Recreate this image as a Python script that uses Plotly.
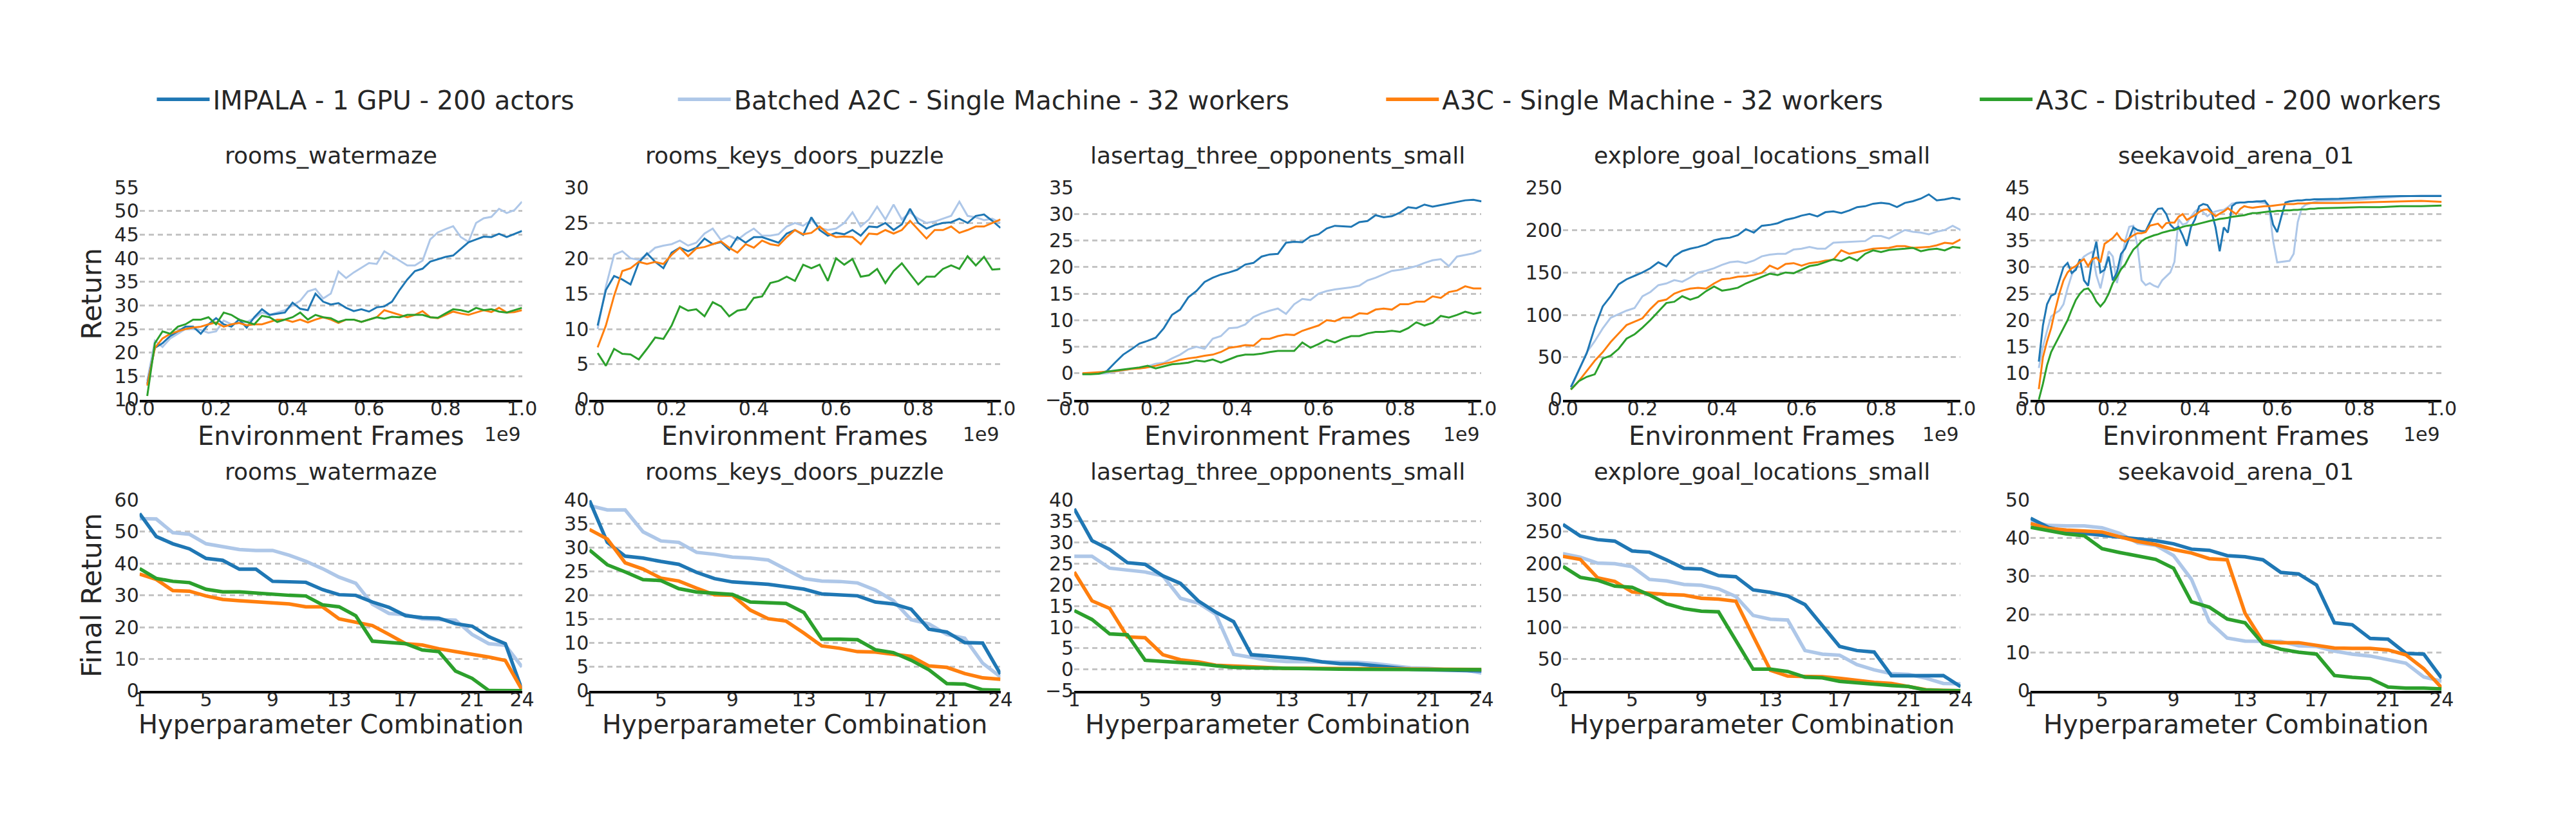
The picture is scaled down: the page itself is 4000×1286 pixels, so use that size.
import plotly.graph_objects as go

W, H = 4000, 1286
FONT = "DejaVu Sans"
TXT = "#262626"

SERIES = ["IMPALA - 1 GPU - 200 actors",
          "Batched A2C - Single Machine - 32 workers",
          "A3C - Single Machine - 32 workers",
          "A3C - Distributed - 200 workers"]
COLORS = ["#1f77b4", "#aec7e8", "#ff7f0e", "#2ca02c"]
ENVS = ["rooms_watermaze", "rooms_keys_doors_puzzle", "lasertag_three_opponents_small",
        "explore_goal_locations_small", "seekavoid_arena_01"]

# ---------------- top row: learning curves (x in units of 1e9 frames) ----------------
FRAMES = [0.02, 0.04, 0.06, 0.08, 0.10, 0.12, 0.14, 0.16, 0.18, 0.20,
          0.22, 0.24, 0.26, 0.28, 0.30, 0.32, 0.34, 0.36, 0.38, 0.40,
          0.42, 0.44, 0.46, 0.48, 0.50, 0.52, 0.54, 0.56, 0.58, 0.60,
          0.62, 0.64, 0.66, 0.68, 0.70, 0.72, 0.74, 0.76, 0.78, 0.80,
          0.82, 0.84, 0.86, 0.88, 0.90, 0.92, 0.94, 0.96, 0.98, 1.00]

WM_IMPALA = [13.4, 21.0, 22.0, 23.5, 24.5, 25.5, 25.5, 24.0, 26.0, 27.3,
             26.0, 25.5, 27.0, 25.3, 27.5, 29.2, 28.0, 28.3, 28.5, 30.6,
             29.3, 29.0, 32.5, 30.8, 30.2, 30.5, 29.5, 28.8, 29.2, 28.7,
             29.6, 29.8, 30.8, 33.3, 35.5, 37.3, 37.8, 39.3, 39.8, 40.3,
             40.6, 42.0, 43.4, 44.0, 44.6, 44.5, 45.2, 44.5, 45.1, 45.8]
WM_A2C = [14.0, 22.5, 21.2, 23.0, 24.0, 25.0, 25.0, 24.8, 24.2, 24.5,
          26.8, 26.0, 26.3, 26.5, 27.3, 28.5, 28.0, 28.5, 29.0, 30.0,
          31.0, 33.0, 33.5, 31.5, 32.5, 37.2, 35.8, 37.0, 38.0, 39.0,
          38.8, 41.5, 40.5, 39.5, 38.5, 38.5, 39.5, 44.0, 45.5, 46.2,
          46.8, 44.5, 43.5, 47.5, 48.5, 48.8, 50.5, 49.6, 50.2, 52.0]
WM_A3C = [13.0, 21.0, 23.0, 24.0, 24.5, 25.0, 25.3, 25.5, 26.0, 26.4,
          25.5, 26.0, 26.3, 25.8, 26.0, 26.0, 26.5, 27.0, 27.0, 26.5,
          27.0, 26.4, 27.0, 27.5, 27.0, 26.3, 27.0, 27.0, 26.5, 27.0,
          27.5, 29.0, 28.5, 28.0, 27.5, 28.0, 28.8, 27.5, 27.3, 28.0,
          28.7, 28.3, 28.0, 28.5, 29.0, 28.6, 29.5, 28.5, 28.6, 29.0]
WM_A3CD = [10.8, 22.0, 24.5, 24.0, 25.5, 26.0, 27.0, 27.0, 27.5, 26.0,
           28.5, 28.0, 27.0, 26.5, 26.0, 27.8, 27.5, 26.5, 27.0, 27.5,
           28.5, 27.0, 28.0, 27.5, 27.3, 26.5, 27.0, 27.0, 26.5, 27.0,
           27.5, 27.2, 27.6, 27.5, 28.0, 28.0, 28.0, 27.5, 27.4, 28.3,
           29.2, 29.0, 28.6, 29.5, 29.0, 29.2, 28.7, 28.5, 29.0, 29.5]

KD_IMPALA = [10.5, 15.5, 17.5, 17.0, 16.3, 19.4, 20.7, 19.5, 18.6, 20.8,
             21.5, 21.0, 21.5, 22.8, 22.0, 22.3, 21.2, 23.0, 22.2, 23.0,
             23.0, 22.6, 22.2, 23.5, 24.0, 23.3, 25.8, 24.0, 23.2, 23.6,
             23.4, 24.0, 23.2, 24.5, 24.4, 25.0, 24.0, 24.8, 27.0, 25.0,
             24.2, 24.7, 25.0, 25.1, 25.6, 25.0, 26.0, 26.2, 25.3, 24.3]
KD_A2C = [10.0, 16.0, 20.5, 21.0, 20.0, 19.8, 20.5, 21.5, 21.8, 22.0,
          22.5, 21.8, 22.2, 23.5, 24.2, 22.6, 23.2, 22.6, 23.5, 24.2,
          23.2, 23.2, 23.4, 24.5, 25.0, 24.6, 25.4, 24.3, 24.0, 24.2,
          25.0, 26.5, 24.5, 25.5, 27.3, 25.5, 27.6, 25.5, 26.5, 25.6,
          25.0, 25.2, 25.6, 26.0, 28.0, 26.0, 25.8, 25.4, 25.6, 25.0]
KD_A3C = [7.4, 10.5, 14.7, 18.2, 18.6, 19.5, 19.2, 19.5, 19.2, 20.5,
          21.5, 20.3, 21.4, 21.6, 22.0, 22.4, 21.5, 20.8, 22.0, 21.5,
          22.5, 22.0, 21.8, 23.0, 24.0, 23.4, 23.6, 24.5, 23.5, 23.0,
          23.1, 23.0, 22.0, 23.5, 23.4, 24.0, 23.5, 24.0, 25.3, 24.0,
          22.8, 24.0, 24.0, 24.5, 23.6, 24.0, 24.5, 24.5, 25.0, 25.5]
KD_A3CD = [6.6, 4.8, 7.2, 6.5, 6.4, 5.7, 7.2, 8.8, 8.6, 10.5,
           13.2, 12.6, 12.8, 11.8, 13.8, 13.2, 11.8, 12.6, 12.8, 14.4,
           14.6, 16.5, 16.8, 17.4, 16.8, 19.1, 18.6, 19.1, 16.8, 20.0,
           19.1, 19.9, 17.4, 17.6, 18.5, 16.5, 18.2, 19.3, 17.8, 16.3,
           17.4, 17.4, 18.5, 19.0, 18.5, 20.3, 19.0, 20.2, 18.4, 18.5]

LT_IMPALA = [-0.1, -0.1, 0.0, 0.4, 2.0, 3.5, 4.5, 5.6, 6.1, 6.7,
             8.5, 11.0, 12.0, 14.3, 15.5, 17.2, 18.0, 18.6, 19.0, 19.5,
             20.5, 20.8, 22.0, 22.4, 22.5, 24.6, 24.8, 24.7, 25.8, 26.2,
             27.3, 27.8, 27.7, 27.6, 28.5, 28.7, 29.8, 29.4, 29.6, 30.3,
             31.3, 31.1, 31.8, 31.4, 31.7, 32.0, 32.3, 32.6, 32.7, 32.4]
LT_A2C = [-0.1, -0.1, -0.1, 0.0, 0.3, 0.5, 0.8, 0.9, 1.3, 1.8,
          2.0, 2.8, 3.5, 4.5, 5.0, 4.6, 6.5, 7.0, 8.5, 8.6,
          9.2, 10.6, 11.3, 11.8, 12.2, 11.2, 13.0, 14.0, 13.8, 15.0,
          15.5, 15.8, 16.0, 16.2, 16.5, 17.5, 18.0, 18.7, 19.3, 19.5,
          19.8, 20.2, 20.8, 21.3, 21.5, 20.2, 22.0, 22.3, 22.6, 23.2]
LT_A3C = [0.0, 0.1, 0.2, 0.3, 0.4, 0.6, 0.8, 0.9, 1.1, 1.4,
          1.8, 2.1, 2.5, 2.8, 3.0, 3.3, 3.5, 4.0, 4.8, 5.0,
          5.3, 5.2, 6.5, 6.5, 7.0, 7.3, 7.2, 8.0, 8.5, 9.0,
          10.0, 9.8, 10.5, 10.5, 11.3, 11.2, 12.0, 12.2, 12.0, 13.0,
          13.0, 13.5, 13.5, 14.5, 14.2, 15.3, 15.6, 16.4, 16.0, 16.0]
LT_A3CD = [-0.2, -0.2, -0.1, 0.3, 0.5, 0.7, 0.9, 1.1, 1.4, 0.9,
           1.3, 1.7, 1.8, 2.0, 2.4, 2.2, 2.6, 2.0, 2.6, 3.2,
           3.5, 3.5, 3.7, 4.0, 4.2, 4.2, 4.2, 5.8, 4.8, 5.5,
           6.3, 5.8, 6.5, 7.0, 7.0, 7.5, 7.8, 7.8, 8.0, 7.8,
           8.5, 9.6, 9.0, 9.5, 10.8, 10.5, 11.0, 11.6, 11.2, 11.5]

EG_IMPALA = [15, 35, 55, 85, 110, 122, 136, 142, 146, 150,
             155, 162, 157, 169, 175, 178, 180, 183, 188, 190,
             191, 194, 201, 197, 205, 206, 208, 212, 214, 217,
             219, 216, 221, 222, 220, 223, 227, 228, 231, 232,
             231, 227, 232, 234, 237, 242, 235, 236, 238, 236]
EG_A2C = [13, 34, 56, 69, 84, 96.6, 101, 105, 108, 122,
          127, 135, 137, 141, 139, 144, 150, 152, 155, 159,
          162, 163, 161, 164, 169, 171, 172, 172, 177, 178,
          180, 178, 178, 185, 185.5, 186, 186, 187, 193, 193,
          190, 195, 200, 198, 197, 195, 198, 200, 205, 200]
EG_A3C = [12, 22, 34, 46, 56, 68, 78, 88, 92, 96,
          107, 116, 118, 125, 128.6, 131, 132, 131, 137, 142,
          143, 145, 145.5, 147, 149.5, 158, 154, 160, 161, 158,
          161, 162, 164, 165, 176, 172, 174, 176, 178, 178.5,
          179, 181, 181, 179, 179.5, 180, 182, 185, 184, 189]
EG_A3CD = [12, 22, 27, 30, 48.5, 52, 60, 72, 77, 85,
           94, 104, 114, 115.5, 122, 118, 121, 128, 133.5, 128.6,
           130, 132, 137, 141, 144.6, 148.5, 147, 150, 149, 153,
           157.5, 159, 162, 165.5, 163.5, 168, 164, 172, 176, 174,
           176.5, 177, 178, 179, 175, 177, 178, 176, 180, 179]

FRAMES_SEEK = [0.02, 0.03, 0.04, 0.05, 0.06, 0.07, 0.08, 0.09, 0.10, 0.11,
               0.12, 0.13, 0.14, 0.15, 0.16, 0.17, 0.18, 0.19, 0.20, 0.21,
               0.22, 0.23, 0.24, 0.25, 0.26, 0.27, 0.28, 0.29, 0.30, 0.31,
               0.32, 0.33, 0.34, 0.35, 0.36, 0.37, 0.38, 0.39, 0.40, 0.41,
               0.42, 0.43, 0.44, 0.45, 0.46, 0.47, 0.48, 0.49, 0.50, 0.51,
               0.52, 0.53, 0.54, 0.55, 0.56, 0.57, 0.58, 0.59, 0.60, 0.61,
               0.62, 0.63, 0.64, 0.65, 0.66, 0.67, 0.68, 0.69, 0.70,
               0.75, 0.80, 0.85, 0.90, 0.95, 1.00]
SA_IMPALA = [12.2, 19.0, 23.0, 24.6, 25.0, 27.5, 30.0, 30.8, 28.9, 29.5,
             31.5, 27.5, 26.5, 31.5, 34.8, 29.0, 29.5, 32.0, 27.5, 29.0,
             32.5, 33.5, 35.5, 37.5, 37.0, 36.8, 36.8, 38.5, 40.0, 41.0,
             41.1, 40.0, 38.0, 37.2, 37.6, 36.0, 34.0, 37.5, 39.0, 41.5,
             41.9, 41.7, 40.5, 37.5, 33.0, 37.5, 36.5, 41.5, 42.1, 42.2,
             42.2, 42.3, 42.3, 42.4, 42.4, 42.5, 41.5, 38.0, 36.6, 39.5,
             42.2, 42.4, 42.5, 42.6, 42.6, 42.7, 42.7, 42.8, 42.8,
             42.9, 43.1, 43.3, 43.4, 43.4, 43.4]
SA_A2C = [11.0, 15.0, 18.0, 20.7, 21.3, 21.8, 23.0, 26.0, 28.5, 30.0,
          31.0, 32.0, 32.5, 32.9, 28.5, 26.0, 29.5, 33.0, 32.0, 27.0,
          30.8, 35.0, 37.6, 37.8, 34.0, 27.5, 26.6, 27.0, 26.5, 26.2,
          27.5, 28.2, 29.0, 31.0, 39.0, 38.0, 38.3, 39.5, 40.5, 41.1,
          40.3, 39.6, 40.2, 40.5, 40.7, 40.8, 41.3, 42.0, 42.1, 42.2,
          42.2, 42.3, 42.3, 42.3, 42.2, 42.1, 41.5, 35.0, 30.9, 31.0,
          31.1, 31.2, 32.5, 38.5, 41.2, 41.8, 42.0, 42.3, 42.5,
          42.6, 42.7, 43.0, 43.3, 43.5, 43.5]
SA_A3C = [7.0, 13.0, 16.0, 18.5, 22.0, 25.0, 27.5, 29.0, 29.8, 30.2,
          31.0, 31.5, 30.2, 31.5, 31.8, 30.9, 34.4, 35.0, 35.5, 36.4,
          35.3, 34.8, 35.5, 36.0, 36.4, 36.4, 36.6, 37.8, 38.0, 38.2,
          37.4, 38.3, 38.4, 38.4, 39.5, 40.0, 38.9, 39.3, 39.8, 40.4,
          40.8, 40.9, 40.2, 39.6, 40.1, 40.5, 41.1, 40.6, 40.0, 41.0,
          41.5, 41.3, 41.2, 41.3, 41.4, 41.5, 41.5, 41.6, 41.7, 41.8,
          41.9, 41.9, 41.9, 42.0, 42.0, 42.0, 42.1, 42.1, 42.1,
          42.1, 42.2, 42.3, 42.4, 42.5, 42.3]
SA_A3CD = [5.0, 8.0, 11.5, 14.0, 15.5, 17.0, 18.4, 20.0, 22.0, 23.8,
           25.0, 25.8, 26.0, 25.0, 23.5, 22.6, 23.5, 25.0, 27.0, 28.2,
           29.6, 30.5, 32.0, 33.3, 34.0, 34.9, 35.4, 35.7, 36.0, 36.2,
           36.5, 36.7, 36.9, 37.0, 37.3, 37.6, 37.8, 37.9, 38.0, 38.2,
           38.4, 38.6, 38.8, 38.9, 39.1, 39.2, 39.3, 39.5, 39.6, 39.7,
           39.8, 40.0, 40.2, 40.2, 40.3, 40.4, 40.5, 40.5, 40.6, 40.6,
           40.7, 40.7, 40.8, 40.8, 40.9, 40.9, 41.0, 41.0, 41.1,
           41.2, 41.3, 41.3, 41.5, 41.5, 41.6]

# ---------------- bottom row: final return per hyperparameter combination ----------------
HP = [1, 2, 3, 4, 5, 6, 7, 8, 9, 10, 11, 12, 13, 14, 15, 16, 17, 18, 19, 20, 21, 22, 23, 24]

WMF_IMPALA = [55.7, 48.5, 46.2, 44.6, 41.6, 41.0, 38.2, 38.2, 34.4, 34.3, 34.1, 31.8,
              30.2, 30.0, 27.9, 26.2, 23.6, 23.0, 22.8, 21.1, 20.3, 17.0, 14.8, 0.3]
WMF_A2C = [54.1, 54.0, 49.7, 49.2, 46.2, 45.2, 44.4, 44.1, 44.1, 42.6, 40.7, 38.4,
           35.7, 33.8, 27.2, 24.3, 23.9, 22.6, 22.3, 22.2, 17.7, 14.8, 14.3, 7.5]
WMF_A3C = [36.7, 35.0, 31.5, 31.3, 29.8, 28.7, 28.3, 27.9, 27.5, 27.3, 26.4, 26.4,
           22.6, 21.6, 20.5, 17.7, 14.8, 14.4, 13.2, 12.3, 11.5, 10.6, 9.5, 0.3]
WMF_A3CD = [38.4, 35.3, 34.4, 34.0, 31.9, 31.1, 31.1, 30.7, 30.5, 30.0, 29.8, 27.0,
            26.4, 23.6, 15.6, 15.3, 14.8, 12.8, 12.3, 6.2, 3.9, 0.1, 0.0, 0.0]

KDF_IMPALA = [39.9, 31.1, 28.2, 27.8, 27.1, 26.5, 24.8, 23.5, 22.8, 22.5, 22.3, 21.8,
              21.3, 20.3, 20.1, 19.9, 18.6, 18.2, 17.1, 12.9, 12.3, 10.1, 10.0, 3.5]
KDF_A2C = [38.8, 37.9, 37.9, 33.3, 31.4, 31.1, 29.0, 28.6, 28.0, 27.8, 27.4, 25.4,
           23.5, 23.0, 22.9, 22.6, 21.1, 18.9, 14.9, 14.0, 11.8, 11.0, 5.8, 2.9]
KDF_A3C = [33.8, 31.8, 26.8, 25.5, 23.6, 23.0, 21.5, 20.1, 20.0, 16.9, 15.1, 14.6,
           12.1, 9.4, 8.9, 8.2, 8.1, 7.7, 7.2, 5.2, 4.9, 3.6, 2.7, 2.4]
KDF_A3CD = [29.5, 26.4, 24.9, 23.3, 23.1, 21.4, 20.7, 20.5, 20.2, 18.6, 18.4, 18.3,
            16.4, 10.8, 10.8, 10.7, 8.6, 8.0, 6.4, 4.4, 1.5, 1.4, 0.2, 0.1]

LTF_IMPALA = [37.9, 30.4, 28.3, 25.2, 24.8, 22.1, 20.3, 16.2, 13.5, 11.3, 3.5, 3.2,
              2.7, 2.5, 1.8, 1.4, 1.3, 0.9, 0.4, 0.05, -0.05, -0.1, -0.15, -0.3]
LTF_A2C = [26.7, 26.7, 23.9, 23.4, 23.0, 22.1, 16.8, 15.7, 13.0, 3.6, 2.9, 2.2,
           1.9, 1.9, 1.9, 1.8, 1.7, 1.4, 0.8, 0.4, 0.3, 0.0, -0.05, -0.8]
LTF_A3C = [23.0, 16.2, 14.4, 7.7, 7.5, 3.5, 2.3, 1.8, 1.0, 0.8, 0.5, 0.4,
           0.3, 0.3, 0.25, 0.2, 0.15, 0.1, 0.05, 0.05, 0.0, 0.0, 0.0, 0.0]
LTF_A3CD = [13.9, 11.8, 8.4, 8.2, 2.2, 2.0, 1.7, 1.4, 0.9, 0.5, 0.4, 0.3,
            0.2, 0.15, 0.1, 0.1, 0.05, 0.0, 0.0, 0.0, 0.0, 0.0, 0.0, 0.0]

EGF_IMPALA = [261.5, 243.4, 237.5, 235.2, 219.7, 217.8, 205.6, 192.4, 191.4, 180.9, 179.3, 158.6,
              154.6, 149.0, 135.5, 103.6, 69.7, 63.2, 60.9, 23.7, 23.7, 24.7, 24.0, 6.6]
EGF_A2C = [215.5, 209.9, 200.7, 199.7, 195.1, 175.0, 172.7, 167.1, 165.8, 160.2, 148.0, 118.4,
           112.5, 111.2, 63.2, 57.6, 55.9, 41.1, 32.9, 27.0, 25.7, 19.7, 11.5, 10.9]
EGF_A3C = [211.2, 206.6, 177.6, 171.7, 155.3, 153.0, 151.3, 150.3, 145.4, 144.1, 140.8, 86.2,
           32.2, 23.0, 23.0, 22.0, 19.7, 16.4, 13.2, 11.5, 5.9, 1.6, 0.7, 0.0]
EGF_A3CD = [195.7, 178.3, 173.7, 164.5, 162.5, 150.7, 136.5, 129.0, 125.0, 124.0, 79.0, 33.9,
            33.9, 30.3, 21.4, 20.4, 14.8, 12.2, 10.5, 8.2, 6.6, 1.0, 0.3, 0.0]

SAF_IMPALA = [45.2, 42.8, 41.7, 41.2, 40.6, 40.2, 39.7, 39.3, 38.5, 37.1, 36.8, 35.4,
              35.1, 34.3, 31.0, 30.6, 27.7, 17.8, 17.3, 13.7, 13.5, 9.8, 9.6, 3.3]
SAF_A2C = [44.4, 43.3, 43.2, 43.2, 42.7, 41.2, 38.7, 38.1, 35.4, 29.2, 18.1, 13.8,
           13.0, 13.0, 12.9, 11.8, 11.6, 10.4, 9.6, 9.1, 8.1, 7.2, 3.6, 2.5]
SAF_A3C = [43.8, 42.5, 42.1, 41.8, 41.6, 40.3, 39.1, 38.3, 37.0, 36.1, 34.6, 34.3,
           20.3, 12.9, 12.6, 12.6, 12.0, 11.2, 11.1, 11.1, 10.7, 9.4, 5.8, 0.8]
SAF_A3CD = [42.8, 41.9, 41.1, 40.6, 37.2, 36.2, 35.2, 34.4, 32.1, 23.3, 21.9, 18.8,
            17.8, 12.3, 10.9, 10.1, 9.6, 4.0, 3.5, 3.2, 1.0, 0.7, 0.7, 0.5]

# axis scales / ticks
TOP_XTICKS = [0.0, 0.2, 0.4, 0.6, 0.8, 1.0]
TOP_XTICKTEXT = ["0.0", "0.2", "0.4", "0.6", "0.8", "1.0"]
HP_TICKS = [1, 5, 9, 13, 17, 21, 24]
TOP_YRANGES = [(10, 55), (0, 30), (-5, 35), (0, 250), (5, 45)]
TOP_DTICK = [5, 5, 5, 50, 5]
BOT_YRANGES = [(0, 60), (0, 40), (-5, 40), (0, 300), (0, 50)]
BOT_DTICK = [10, 5, 5, 50, 10]

TOP_DATA = [
    (FRAMES, [WM_IMPALA, WM_A2C, WM_A3C, WM_A3CD]),
    (FRAMES, [KD_IMPALA, KD_A2C, KD_A3C, KD_A3CD]),
    (FRAMES, [LT_IMPALA, LT_A2C, LT_A3C, LT_A3CD]),
    (FRAMES, [EG_IMPALA, EG_A2C, EG_A3C, EG_A3CD]),
    (FRAMES_SEEK, [SA_IMPALA, SA_A2C, SA_A3C, SA_A3CD]),
]
BOT_DATA = [
    [WMF_IMPALA, WMF_A2C, WMF_A3C, WMF_A3CD],
    [KDF_IMPALA, KDF_A2C, KDF_A3C, KDF_A3CD],
    [LTF_IMPALA, LTF_A2C, LTF_A3C, LTF_A3CD],
    [EGF_IMPALA, EGF_A2C, EGF_A3C, EGF_A3CD],
    [SAF_IMPALA, SAF_A2C, SAF_A3C, SAF_A3CD],
]

# ---------------- layout geometry (pixels) ----------------
XPIX = [(187, 788), (894, 1540), (1656, 2296), (2424, 3049), (3159, 3805)]
TOP_YPIX = (273, 612)
BOT_YPIX = (772, 1077)
DRAW_ORDER = [1, 0, 2, 3]
LEG_X = [214, 1033, 2146, 3079]


def ax(n):
    return "" if n == 1 else str(n)


def ydom(p):
    return [1 - p[1] / H, 1 - p[0] / H]


def note(text, xpx, ypx, size, xanchor="center", angle=0):
    return dict(text=text, x=xpx / W, y=1 - ypx / H, xref="paper", yref="paper",
                xanchor=xanchor, yanchor="middle", showarrow=False, textangle=angle,
                font=dict(size=size, color=TXT, family=FONT))


fig = go.Figure()
layout = dict(width=W, height=H, margin=dict(l=0, r=0, t=0, b=0),
              paper_bgcolor="white", plot_bgcolor="white",
              font=dict(family=FONT, color=TXT, size=30), showlegend=True)
annotations = []

grid = dict(showgrid=True, gridcolor="#c4c4c4", gridwidth=2.5, griddash="8px,6px",
            zeroline=False, showline=False, ticks="", tickfont=dict(size=30, color=TXT),
            fixedrange=True)
xbase = dict(showgrid=False, zeroline=False, showline=True, linecolor="black", linewidth=3.5,
             ticks="", tickfont=dict(size=30, color=TXT), fixedrange=True,
             ticklabelstandoff=-16)

for i in range(5):
    x0, x1 = XPIX[i]
    dom = [x0 / W, x1 / W]
    nt, nb = i + 1, i + 6
    # top axes
    layout["xaxis" + ax(nt)] = dict(
        xbase, domain=dom, anchor="y" + ax(nt), range=[0, 1], tickmode="array",
        tickvals=TOP_XTICKS, ticktext=TOP_XTICKTEXT)
    layout["yaxis" + ax(nt)] = dict(grid, domain=ydom(TOP_YPIX), anchor="x" + ax(nt),
                                    range=list(TOP_YRANGES[i]), tick0=0, dtick=TOP_DTICK[i])
    # bottom axes
    layout["xaxis" + ax(nb)] = dict(
        xbase, domain=dom, anchor="y" + ax(nb), range=[1, 24], tickmode="array",
        tickvals=HP_TICKS)
    layout["yaxis" + ax(nb)] = dict(grid, domain=ydom(BOT_YPIX), anchor="x" + ax(nb),
                                    range=list(BOT_YRANGES[i]), tick0=0, dtick=BOT_DTICK[i])

    cx = (x0 + x1) / 2
    # subplot titles
    annotations.append(note(ENVS[i], cx, 222, 36))
    annotations.append(note(ENVS[i], cx, 727, 36))
    # axis titles
    annotations.append(note("Environment Frames", cx, 670, 40))
    annotations.append(note("Hyperparameter Combination", cx, 1131, 40))
    # offset text of the frame axis
    annotations.append(note("1e9", x1, 667, 30, xanchor="right"))

    frames, curves = TOP_DATA[i]
    for s in DRAW_ORDER:
        fig.add_trace(go.Scatter(x=frames, y=curves[s], mode="lines", name=SERIES[s],
                                 line=dict(color=COLORS[s], width=3),
                                 xaxis="x" + ax(nt), yaxis="y" + ax(nt), showlegend=False,
                                 legendgroup=SERIES[s]))
    for s in DRAW_ORDER:
        lg = "legend" if s == 0 else "legend" + str(s + 1)
        fig.add_trace(go.Scatter(x=HP, y=BOT_DATA[i][s], mode="lines", name=SERIES[s],
                                 line=dict(color=COLORS[s], width=5.5),
                                 xaxis="x" + ax(nb), yaxis="y" + ax(nb),
                                 showlegend=(i == 0), legend=lg, legendgroup=SERIES[s]))

annotations.append(note("Return", 111, (TOP_YPIX[0] + TOP_YPIX[1]) / 2, 43, angle=-90))
annotations.append(note("Final Return", 111, (BOT_YPIX[0] + BOT_YPIX[1]) / 2, 43, angle=-90))

for s in range(4):
    lg = "legend" if s == 0 else "legend" + str(s + 1)
    layout[lg] = dict(x=(LEG_X[s] - 5) / W, y=1 - 132 / H, xanchor="left", yanchor="middle",
                      orientation="h", bgcolor="rgba(0,0,0,0)", borderwidth=0,
                      itemwidth=82, font=dict(size=40, color=TXT, family=FONT))

layout["annotations"] = annotations
fig.update_layout(**layout)
fig.write_html("out.html")
